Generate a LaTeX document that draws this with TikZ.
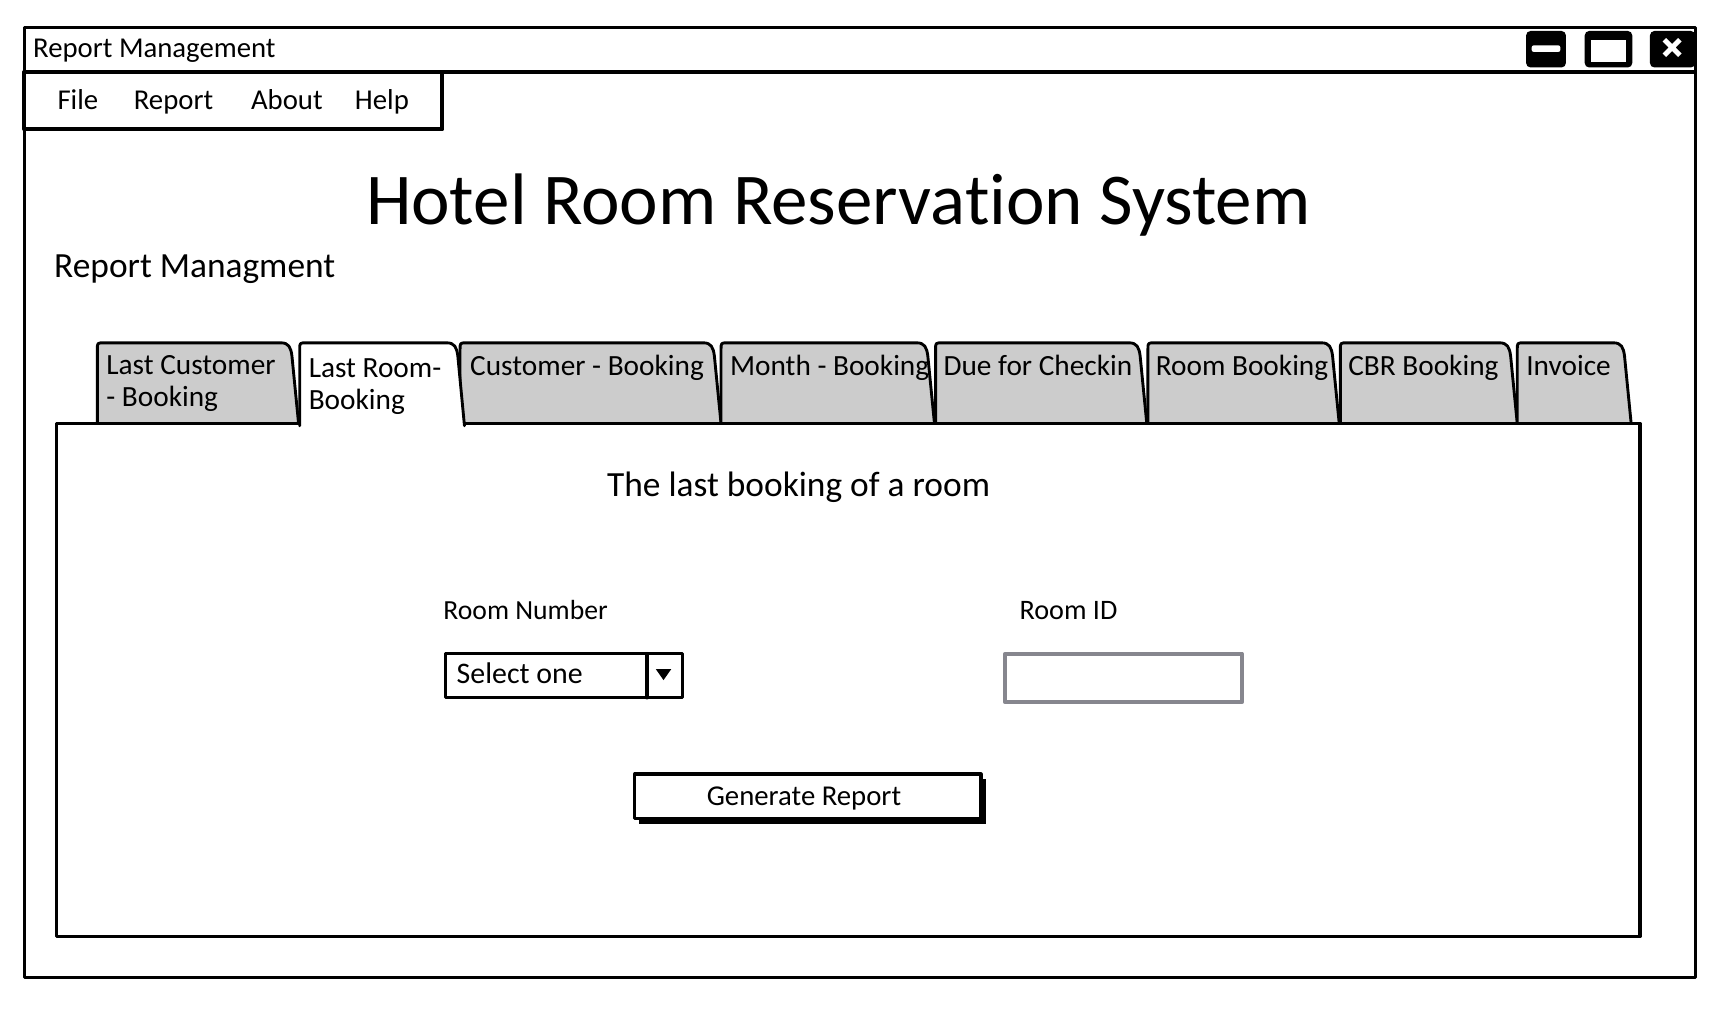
\documentclass[tikz,border=0pt]{standalone}
\usepackage{fontspec}
\setmainfont[Ligatures=NoCommon]{Carlito}
\definecolor{tabfill}{HTML}{CCCCCC}
\definecolor{fieldgray}{HTML}{86868E}
\tikzset{
  heavy/.style={line width=3pt, line join=round, line cap=round},
  tabline/.style={line width=2.6pt, line join=round, line cap=round},
  txt/.style={inner sep=0pt, outer sep=0pt, anchor=base west, text=black},
  tabtxt/.style={inner sep=0pt, anchor=north west, align=left, font=\fontsize{26.5}{29.5}\selectfont},
}
\newcommand\drawtab[3]{%
  \draw[tabline, fill=#3] (#1,383) -- (#1,316) .. controls (#1,310) .. (#1+6,310)
    -- (#2-16,310) .. controls (#2-9,310) and (#2-7,314) .. (#2-6,322) -- (#2,383);}
\begin{document}
\begin{tikzpicture}[x=1pt,y=-1pt]
\useasboundingbox[fill=white] (0,0) rectangle (1568,922);
% window
\draw[heavy] (22,25) rectangle (1533,884);
\draw[heavy] (22,65) -- (1533,65);
\node[txt, font=\fontsize{26}{28}\selectfont] (wtitle) at (30,52) {Report Management};
% window buttons
\fill[rounded corners=4pt] (1380,28) rectangle (1416,61);
\fill[white, rounded corners=2pt] (1385,41) rectangle (1411,47);
\fill[rounded corners=4pt] (1433,28) rectangle (1476,61);
\fill[white] (1439,36) rectangle (1470,56);
\fill[rounded corners=4pt] (1492,28) rectangle (1533,61);
\draw[white, line width=4.5pt] (1505,36) -- (1519,50) (1519,36) -- (1505,50);
% menu
\draw[line width=3.5pt, line join=round, fill=white] (22,65) rectangle (400,117);
\foreach \nm/\xx/\tt in {mfile/52/File, mreport/121/Report, mabout/227/About, mhelp/321/Help}
  \node[txt, font=\fontsize{26}{28}\selectfont] (\nm) at (\xx,99) {\tt};
% headings
\node[txt, font=\fontsize{66}{68}\selectfont] (title) at (331,203) {Hotel Room Reservation System};
\node[txt, font=\fontsize{32}{34}\selectfont] (sub) at (49,251) {Report Managment};
% panel
\fill[white] (51,383) rectangle (1483,847);
\drawtab{88}{270}{tabfill}
\drawtab{416}{652}{tabfill}
\drawtab{652}{845}{tabfill}
\drawtab{846}{1037}{tabfill}
\drawtab{1038}{1211}{tabfill}
\drawtab{1212}{1372}{tabfill}
\drawtab{1372}{1475}{tabfill}
\draw[heavy] (51,383) rectangle (1483,847);
\fill[white] (272,376) rectangle (418,387);
\draw[tabline, fill=white] (271,385) -- (271,316) .. controls (271,310) .. (277,310)
    -- (404,310) .. controls (411,310) and (413,314) .. (414,322) -- (420,385);
\node[tabtxt] (t1) at (96,321) {Last Customer\\- Booking};
\node[tabtxt] (t2) at (279,324) {Last Room-\\Booking};
\node[tabtxt] (t3) at (425,321) {Customer - Booking};
\node[tabtxt] (t4) at (660,321) {Month - Booking};
\node[tabtxt] (t5) at (853,321) {Due for Checkin};
\node[tabtxt] (t6) at (1045,321) {Room Booking};
\node[tabtxt] (t7) at (1219,321) {CBR Booking};
\node[tabtxt] (t8) at (1380,321) {Invoice};
% content
\node[txt, font=\fontsize{32}{34}\selectfont] (lead) at (549,449) {The last booking of a room};
\node[txt, font=\fontsize{25}{27}\selectfont] (lroom) at (401,560) {Room Number};
\node[txt, font=\fontsize{25.5}{27}\selectfont] (lid) at (922,560) {Room ID};
% combo box
\draw[heavy] (403,591) rectangle (617,631);
\draw[heavy] (585,591) -- (585,631);
\fill (593,605) -- (607,605) -- (600,615) -- cycle;
\node[txt, font=\fontsize{27}{29}\selectfont] (sel) at (413,618) {Select one};
% text field
\draw[line width=3.5pt, draw=fieldgray, line join=round] (909,591) rectangle (1123,635);
% button
\fill (578,704) rectangle (892,745);
\draw[heavy, fill=white] (574,700) rectangle (887,740);
\node[txt, font=\fontsize{26}{28}\selectfont, anchor=base] (gen) at (727,728) {Generate Report};
\end{tikzpicture}
\end{document}
